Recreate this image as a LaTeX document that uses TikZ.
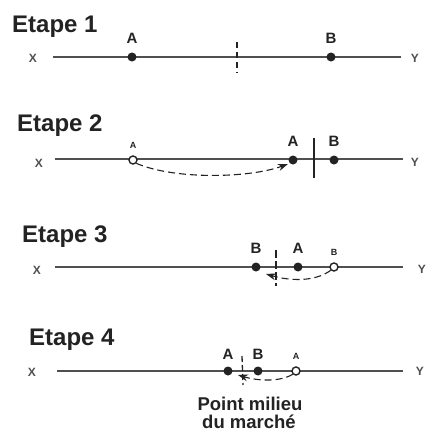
\documentclass[tikz,border=0pt]{standalone}
\usepackage{fontspec}
\setmainfont{Liberation Sans}
\usetikzlibrary{arrows.meta,positioning}
\definecolor{encre}{RGB}{35,35,35}
\definecolor{trait}{RGB}{80,80,80}

\begin{document}
\begin{tikzpicture}[x=1pt,y=-1pt]
  \tikzstyle{titre}=[anchor=base west,inner sep=0pt,text=encre,font=\fontsize{24}{26}\selectfont\bfseries]
  \tikzstyle{axe}=[trait,line width=1.8pt]
  \tikzstyle{bout}=[inner sep=0pt,text=trait,font=\fontsize{12}{13}\selectfont\bfseries]
  \tikzstyle{plein}=[circle,fill=encre,inner sep=0pt,minimum size=9pt]
  \tikzstyle{vide}=[circle,draw=encre,fill=white,line width=1.4pt,inner sep=0pt,minimum size=8pt]
  \tikzstyle{lettre}=[inner sep=0pt,text=encre,font=\fontsize{15}{16}\selectfont\bfseries]
  \tikzstyle{petite}=[inner sep=0pt,text=encre,font=\fontsize{9}{10}\selectfont\bfseries]
  \tikzstyle{saut}=[-{Stealth[length=10pt,width=7pt]},encre,dash pattern=on 7pt off 4pt,line width=1.1pt]
  \tikzstyle{repere}=[encre,line width=1.3pt]
  \tikzstyle{legende}=[anchor=base,inner sep=0pt,text=encre,font=\fontsize{18.5}{20}\selectfont\bfseries]

  \useasboundingbox[fill=white] (0,0) rectangle (431,432);

  % -- Etape 1 --
  \node[titre] (t1) at (12,32) {Etape 1};
  \node[bout] (x1) at (33,58) {X};
  \node[bout] (y1) at (415,58) {Y};
  \coordinate (g1) at (53,57);
  \coordinate (d1) at (401,57);
  \draw[axe] (g1) -- (d1);
  \node[plein] (a1) at (132,57) {};
  \node[plein] (b1) at (331,57) {};
  \node[lettre,above=9pt of a1] (la1) {A};
  \node[lettre,above=9pt of b1] (lb1) {B};
  \coordinate (m1h) at (237,42);
  \coordinate (m1b) at (237,73);
  \draw[repere,dash pattern=on 6pt off 4pt] (m1h) -- (m1b);

  % -- Etape 2 --
  \node[titre] (t2) at (17,131) {Etape 2};
  \node[bout] (x2) at (39,163) {X};
  \node[bout] (y2) at (415,162) {Y};
  \coordinate (g2) at (55,159);
  \coordinate (d2) at (403,159);
  \draw[axe] (g2) -- (d2);
  \node[vide] (a2o) at (133,160) {};
  \node[plein] (a2) at (293,160) {};
  \node[plein] (b2) at (334,160) {};
  \node[petite,above=7pt of a2o] (la2o) {A};
  \node[lettre,above=9pt of a2] (la2) {A};
  \node[lettre,above=9pt of b2] (lb2) {B};
  \coordinate (m2h) at (314,138);
  \coordinate (m2b) at (314,178);
  \draw[repere] (m2h) -- (m2b);
  \coordinate (f2) at (288,164);
  \draw[saut] (a2o.south east) .. controls (175,180) and (250,178) .. (f2);

  % -- Etape 3 --
  \node[titre] (t3) at (22,242) {Etape 3};
  \node[bout] (x3) at (37,270) {X};
  \node[bout] (y3) at (422,269) {Y};
  \coordinate (g3) at (55,267);
  \coordinate (d3) at (403,267);
  \draw[axe] (g3) -- (d3);
  \node[plein] (b3) at (256,267) {};
  \node[plein] (a3) at (298,267) {};
  \node[vide] (b3o) at (334,267) {};
  \node[lettre,above=9pt of b3] (lb3) {B};
  \node[lettre,above=9pt of a3] (la3) {A};
  \node[petite,above=7pt of b3o] (lb3o) {B};
  \coordinate (m3h) at (276,250);
  \coordinate (m3b) at (276,286);
  \draw[repere,dash pattern=on 8pt off 3pt] (m3h) -- (m3b);
  \coordinate (f3) at (266,274);
  \draw[saut] (b3o.south west) .. controls (315,282) and (290,281) .. (f3);

  % -- Etape 4 --
  \node[titre] (t4) at (29,345) {Etape 4};
  \node[bout] (x4) at (32,372) {X};
  \node[bout] (y4) at (420,371) {Y};
  \coordinate (g4) at (57,371);
  \coordinate (d4) at (403,371);
  \draw[axe] (g4) -- (d4);
  \node[plein] (a4) at (228,371) {};
  \node[plein] (b4) at (258,371) {};
  \node[vide] (a4o) at (296,371) {};
  \node[lettre,above=7pt of a4] (la4) {A};
  \node[lettre,above=7pt of b4] (lb4) {B};
  \node[petite,above=7pt of a4o] (la4o) {A};
  \coordinate (m4h) at (242,356);
  \coordinate (m4b) at (243,385);
  \draw[repere,dash pattern=on 6pt off 3pt] (m4h) -- (m4b);
  \coordinate (f4) at (238,375);
  \draw[saut] (a4o.south west) .. controls (280,382) and (258,381) .. (f4);
  \node[legende] (pm) at (250,410) {Point milieu};
  \node[legende] (dm) at (249,428) {du marché};
\end{tikzpicture}
\end{document}
